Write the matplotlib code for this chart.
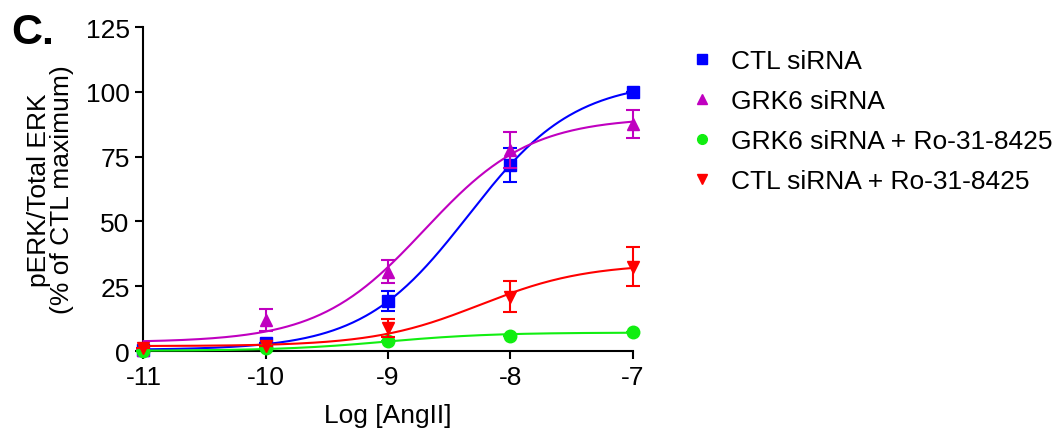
import numpy as np
import matplotlib.pyplot as plt
from matplotlib.lines import Line2D

plt.rcParams['font.family'] = ['Liberation Sans', 'DejaVu Sans']
plt.rcParams['axes.unicode_minus'] = False

# log [AngII] doses
log_dose = [-11, -10, -9, -8, -7]

# mean response and SEM for each condition
series_names = ['CTL siRNA', 'GRK6 siRNA', 'GRK6 siRNA + Ro-31-8425', 'CTL siRNA + Ro-31-8425']
ctl = [0.3, 3.0, 19.3, 71.9, 100.0]
ctl_err = [0, 0, 3.9, 6.6, 0]
grk6 = [0.5, 12.0, 30.7, 77.5, 87.5]
grk6_err = [0, 4.4, 4.6, 7.0, 5.4]
grk6_ro = [0.0, 1.0, 3.8, 6.0, 7.5]
grk6_ro_err = [0, 0, 0, 0, 0]
ctl_ro = [1.0, 2.0, 8.9, 21.0, 32.6]
ctl_ro_err = [0, 0, 3.5, 6.0, 7.6]

colors = ['#0000FF', '#C000C0', '#11EE11', '#FF0000']
markers = ['s', '^', 'o', 'v']


def fit_sigmoid(x, y):
    # log(agonist) vs response, slope fixed at 1: bottom/top solved linearly, EC50 by grid
    x = np.asarray(x, float)
    y = np.asarray(y, float)
    best = None
    for ec50 in np.linspace(-11, -6, 2001):
        s = 1.0 / (1.0 + 10 ** (ec50 - x))
        A = np.column_stack([1 - s, s])
        coef, res, *_ = np.linalg.lstsq(A, y, rcond=None)
        err = np.sum((A @ coef - y) ** 2)
        if best is None or err < best[0]:
            best = (err, ec50, coef)
    _, ec50, (bottom, top) = best
    return lambda xx: bottom + (top - bottom) / (1.0 + 10 ** (ec50 - xx))


fs = 19
fig = plt.figure(figsize=(10.59, 4.39), dpi=100)
ax = fig.add_axes([0.1355, 0.198, 0.462, 0.738])

data = [(ctl, ctl_err), (grk6, grk6_err), (grk6_ro, grk6_ro_err), (ctl_ro, ctl_ro_err)]
xs = np.linspace(-11, -7, 300)
order = [2, 3, 1, 0]
for i in order:
    y, e = data[i]
    f = fit_sigmoid(log_dose, y)
    ax.plot(xs, f(xs), color=colors[i], lw=1.5, clip_on=False, zorder=2 + i)
    ax.errorbar(log_dose, y, yerr=e, fmt=markers[i], color=colors[i], ms=9,
                elinewidth=1.5, capsize=5, capthick=1.5, clip_on=False, zorder=3 + i)

ax.set_xlim(-11, -7)
ax.set_ylim(0, 125)
ax.set_xticks(log_dose)
ax.set_yticks([0, 25, 50, 75, 100, 125])
ax.spines['top'].set_visible(False)
ax.spines['right'].set_visible(False)
for sp in ['left', 'bottom']:
    ax.spines[sp].set_linewidth(1.5)
ax.tick_params(width=1.5, length=6, labelsize=fs, pad=4)
ax.set_xlabel('Log [AngII]', fontsize=fs, labelpad=10)
ax.set_ylabel('pERK/Total ERK\n(% of CTL maximum)', fontsize=fs, linespacing=0.95, labelpad=8)

handles = [Line2D([], [], ls='none', marker=markers[i], color=colors[i], ms=7) for i in range(4)]
fig.legend(handles, series_names, loc='upper left', bbox_to_anchor=(0.65, 0.885),
           frameon=False, fontsize=fs, labelspacing=0.6, handletextpad=0.6,
           handlelength=1.0, borderpad=0, borderaxespad=0)

fig.text(0.011, 0.9, 'C.', fontsize=31, fontweight='bold')

fig.savefig('out.png', dpi=100)
